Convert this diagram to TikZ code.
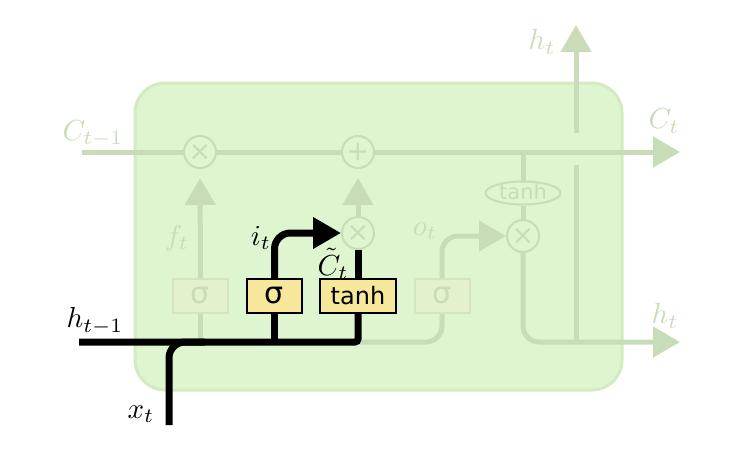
\documentclass[tikz,border=0pt]{standalone}
\usepackage{fontspec}
\setsansfont{DejaVu Sans}
\usetikzlibrary{shapes,arrows.meta,positioning,calc}
\definecolor{cellfill}{HTML}{DFF5D0}
\definecolor{celledge}{HTML}{D3EBC3}
\definecolor{faded}{HTML}{C8DDB7}
\definecolor{fadedbox}{HTML}{E3F2CD}
\definecolor{gatefill}{HTML}{F6E79A}
\tikzstyle{cellbox} = [rectangle, rounded corners=30pt, fill=cellfill, draw=celledge, line width=3pt, minimum width=487pt, minimum height=307pt]
\tikzstyle{gate} = [rectangle, draw=black, fill=gatefill, line width=2pt, minimum width=55pt, minimum height=34pt, inner sep=0pt, font=\fontsize{24}{24}\selectfont\sffamily]
\tikzstyle{siggate} = [gate, font=\fontsize{30}{32}\selectfont\sffamily]
\tikzstyle{fadedgate} = [siggate, draw=faded!80, fill=fadedbox, text=faded]
\tikzstyle{pointop} = [circle, draw=faded, fill=cellfill, line width=2pt, minimum size=32pt, inner sep=0pt, text=faded, font=\fontsize{27}{28}\selectfont\sffamily]
\tikzstyle{squash} = [ellipse, draw=faded, fill=cellfill, line width=2pt, minimum width=75pt, minimum height=23pt, inner sep=0pt, text height=12pt, text depth=0pt, text=faded, font=\fontsize{21}{22}\selectfont\sffamily]
\tikzstyle{mainline} = [line width=7pt, draw=black]
\tikzstyle{mainarrow} = [mainline, -{Triangle[length=28pt,width=30pt]}]
\tikzstyle{fadedline} = [line width=5pt, draw=faded]
\tikzstyle{fadedarrow} = [fadedline, -{Triangle[length=27pt,width=30pt]}]
\tikzstyle{lbl} = [scale=2.9, transform shape, inner sep=0pt]
\tikzstyle{fadedlbl} = [lbl, text=faded]

\begin{document}
\begin{tikzpicture}[x=1pt, y=-1pt]
\useasboundingbox (0,0) rectangle (747,450);

% ZELLE
\node (cell) [cellbox] at (378.5,236.5) {};

% ENDPUNKTE
\coordinate (cin) at (82,152);
\coordinate (cout) at (680,152);
\coordinate (hin) at (79,342);
\coordinate (hout) at (680,342);
\coordinate (xin) at (169,425);
\coordinate (xmerge) at (205,342);
\coordinate (htop) at (576,25);
\coordinate (hsplit) at (576,342);
\coordinate (habove) at (576,133);
\coordinate (hbelow) at (576,165);

% PUNKTWEISE OPERATIONEN
\node (mulf) [pointop] at (200,152) {×};
\node (add) [pointop] at (358,152) {+};
\node (muli) [pointop] at (358,233) {×};
\node (mulo) [pointop] at (523,236) {×};
\node (tanhe) [squash] at (523,193) {tanh};

% GATES
\node (sigf) [fadedgate] at (200.5,296) {σ};
\node (sigi) [siggate] at (274.5,296) {σ};
\node (tanhc) [gate, minimum width=76pt] at (358,296) {tanh};
\node (sigo) [fadedgate] at (442,296) {σ};

% PFEILE - Zellzustand
\draw [fadedline] (cin) -- (mulf.west);
\draw [fadedline] (mulf.east) -- (add.west);
\draw [fadedarrow] (add.east) -- (cout);

% PFEILE - blasse Pfade
\draw [fadedline] (sigf.south) -- (sigf.south |- hin);
\draw [fadedarrow, shorten >=9pt] (sigf.north) -- (mulf.south);
\draw [fadedarrow, shorten >=9pt] (muli.north) -- (add.south);
\draw [fadedline, rounded corners=16pt] (tanhc.south |- hin) -| (sigo.south);
\draw [fadedarrow, rounded corners=16pt] (sigo.north) |- (mulo.west);
\draw [fadedline] (mulo.north |- cin) -- (tanhe.north);
\draw [fadedline] (tanhe.south) -- (mulo.north);
\draw [fadedarrow, rounded corners=16pt] (mulo.south) |- (hout);
\draw [fadedline] (hsplit) -- (hbelow);
\draw [fadedarrow] (habove) -- (htop);

% PFEILE - Eingangsgate
\draw [mainline, rounded corners=16pt] (xin) |- (xmerge);
\draw [mainline, rounded corners=3pt] (hin) -| (tanhc.south);
\draw [mainline] (sigi.south) -- (sigi.south |- hin);
\draw [mainarrow, rounded corners=16pt] (sigi.north) |- (muli.west);
\draw [mainline] (tanhc.north) -- (muli.south);

% Beschriftung
\node (lblcprev) [fadedlbl] at (93,134) {$C_{t-1}$};
\node (lblcnext) [fadedlbl] at (664,121) {$C_t$};
\node (lblhtop) [fadedlbl] at (542,42) {$h_t$};
\node (lblhout) [fadedlbl] at (665,316) {$h_t$};
\node (lblhprev) [lbl] at (95,321) {$h_{t-1}$};
\node (lblx) [lbl] at (141,414) {$x_t$};
\node (lblf) [fadedlbl] at (177,238) {$f_t$};
\node (lbli) [lbl] at (261,238) {$i_t$};
\node (lblctil) [lbl] at (333,264) {$\tilde{C}_t$};
\node (lblo) [fadedlbl] at (425,231) {$o_t$};

\end{tikzpicture}
\end{document}
